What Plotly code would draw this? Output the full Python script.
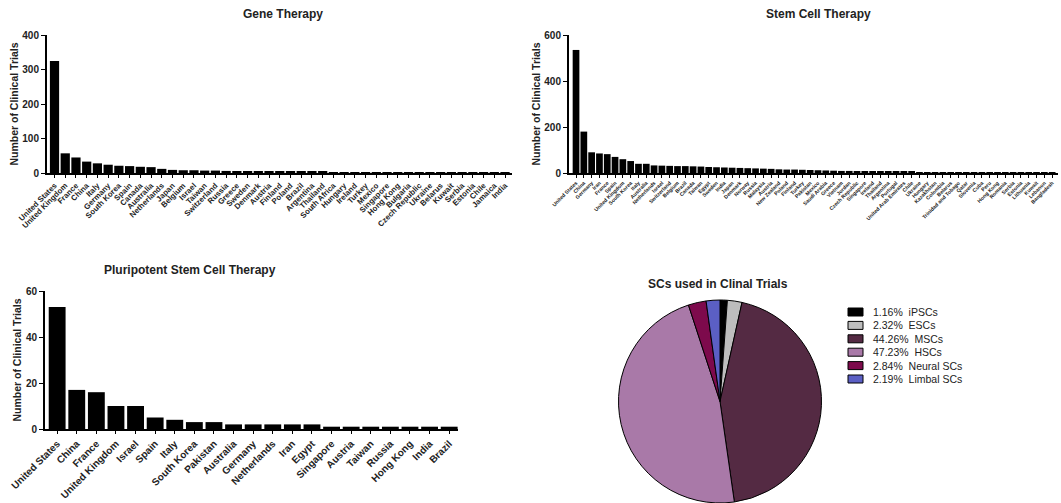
import plotly.graph_objects as go

W, H = 1061, 503

gene_countries = ["United States", "United Kingdom", "France", "China", "Italy", "Germany", "South Korea",
                  "Spain", "Canada", "Australia", "Netherlands", "Japan", "Belgium", "Israel", "Taiwan",
                  "Switzerland", "Russia", "Greece", "Sweden", "Denmark", "Austria", "Finland", "Poland",
                  "Brazil", "Argentina", "Thailand", "South Africa", "Hungary", "Ireland", "Turkey", "Mexico",
                  "Singapore", "Hong Kong", "Bulgaria", "Czech Republic", "Ukraine", "Belarus", "Kuwait",
                  "Serbia", "Estonia", "Chile", "Jamaica", "India"]
gene_values = [325, 57, 45, 33, 28, 24, 21, 20, 18, 17, 12, 9, 8, 8, 7, 7, 6, 5, 5, 4, 4, 4, 3,
               3, 3, 3, 2, 2, 2, 2, 2, 2, 2, 1, 1, 1, 1, 1, 1, 1, 1, 1, 1]

stem_countries = ["United States", "China", "Germany", "Iran", "France", "Spain", "United Kingdom",
                  "South Korea", "Italy", "Australia", "Netherlands", "Israel", "Switzerland", "Belgium",
                  "Brazil", "Canada", "Taiwan", "Egypt", "Sweden", "India", "Japan", "Denmark", "Norway",
                  "Russia", "Malaysia", "Austria", "New Zealand", "Poland", "Finland", "Turkey", "Pakistan",
                  "Mexico", "Saudi Arabia", "Greece", "Vietnam", "Jordan", "Czech Republic", "Singapore",
                  "Ireland", "Thailand", "Argentina", "Portugal", "United Arab Emirates", "Chile", "Ukraine",
                  "Hungary", "Kazakhstan", "Colombia", "Belarus", "Trinidad and Tobago", "Qatar", "Slovenia",
                  "Cuba", "Peru", "Hong Kong", "Romania", "Serbia", "Estonia", "Lithuania", "Kuwait",
                  "Lebanon", "Bangladesh"]
stem_values = [535, 180, 90, 85, 82, 70, 60, 52, 40, 40, 33, 32, 31, 30, 30, 29, 28, 26, 25, 24,
               23, 22, 21, 20, 19, 18, 16, 15, 15, 14, 13, 12, 11, 10, 9, 9, 8, 7, 7, 6, 6, 5, 5,
               5, 4, 4, 4, 3, 3, 3, 3, 2, 2, 2, 2, 2, 1, 1, 1, 1, 1, 1]

psc_countries = ["United States", "China", "France", "United Kingdom", "Israel", "Spain", "Italy",
                 "South Korea", "Pakistan", "Australia", "Germany", "Netherlands", "Iran", "Egypt",
                 "Singapore", "Austria", "Taiwan", "Russia", "Hong Kong", "India", "Brazil"]
psc_values = [53, 17, 16, 10, 10, 5, 4, 3, 3, 2, 2, 2, 2, 2, 1, 1, 1, 1, 1, 1, 1]

sc_types = ["iPSCs", "ESCs", "MSCs", "HSCs", "Neural SCs", "Limbal SCs"]
sc_pct = [1.16, 2.32, 44.26, 47.23, 2.84, 2.19]
sc_colors = ["#000000", "#bdbdbd", "#542a43", "#a979a8", "#7d0a4c", "#5b5fc4"]

FONT = "Liberation Sans, Arial, sans-serif"


def px_x(p):
    return p / W


def px_y(p):
    return (H - p) / H


fig = go.Figure()

fig.add_trace(go.Bar(x=list(range(len(gene_values))), y=gene_values, marker_color="black",
                     marker_line_width=0, xaxis="x", yaxis="y", showlegend=False))
fig.add_trace(go.Bar(x=list(range(len(stem_values))), y=stem_values, marker_color="black",
                     marker_line_width=0, xaxis="x2", yaxis="y2", showlegend=False))
fig.add_trace(go.Bar(x=list(range(len(psc_values))), y=psc_values, marker_color="black",
                     marker_line_width=0, xaxis="x3", yaxis="y3", showlegend=False))

pie_labels = [f"{p:.2f}%  {t}" for p, t in zip(sc_pct, sc_types)]
fig.add_trace(go.Pie(labels=pie_labels, values=sc_pct,
                     marker=dict(colors=sc_colors, line=dict(color="black", width=1)),
                     sort=False, direction="clockwise", rotation=0, textinfo="none",
                     hoverinfo="label", showlegend=False,
                     domain=dict(x=[px_x(617), px_x(823)], y=[0, px_y(300)])))


def xax(labels, domain, rng, size, anchor):
    return dict(domain=domain, range=rng, anchor=anchor, tickmode="array", automargin=False,
                tickvals=list(range(len(labels))), ticktext=labels, tickangle=-45,
                tickfont=dict(family=FONT, size=size, color="#222", weight="bold"),
                showline=True, linecolor="black", linewidth=2, ticks="outside",
                ticklen=3, tickwidth=1.3, tickcolor="black", showgrid=False, zeroline=False)


def yax(domain, rng, dtick, anchor, size=10):
    return dict(domain=domain, range=rng, anchor=anchor, dtick=dtick, automargin=False,
                tickfont=dict(family=FONT, size=size, color="#222", weight="bold"),
                showline=True, linecolor="black", linewidth=2, ticks="outside",
                ticklen=4, tickwidth=1.3, tickcolor="black", showgrid=False, zeroline=False,
                title=dict(text="Number of Clinical Trials",
                           font=dict(family=FONT, size=10.5, color="#222", weight="bold"),
                           standoff=2))


n1, n2, n3 = len(gene_values), len(stem_values), len(psc_values)
fig.update_layout(
    width=W, height=H, margin=dict(l=0, r=0, t=0, b=0, autoexpand=False),
    paper_bgcolor="white", plot_bgcolor="white",
    bargap=0.14, showlegend=False,
    xaxis=xax(gene_countries, [px_x(47), px_x(512)], [-0.7, n1 - 1 + 0.65], 7.8, "y"),
    yaxis=yax([px_y(173), px_y(35)], [0, 400], 100, "x"),
    xaxis2=xax(stem_countries, [px_x(569), px_x(1058)], [-0.9, n2 - 1 + 0.75], 5.2, "y2"),
    yaxis2=yax([px_y(173), px_y(35)], [0, 600], 200, "x2"),
    xaxis3=xax(psc_countries, [px_x(45), px_x(458)], [-0.62, n3 - 1 + 0.45], 10, "y3"),
    yaxis3=yax([px_y(429), px_y(291)], [0, 60], 20, "x3"),
)

# manual legend for the pie (compact spacing like the original)
leg_x0, leg_y0, leg_dy = 848, 307, 13.4
for i, (lab, col) in enumerate(zip(pie_labels, sc_colors)):
    ytop = leg_y0 + i * leg_dy
    fig.add_shape(type="rect", xref="paper", yref="paper",
                  x0=px_x(leg_x0), x1=px_x(leg_x0 + 15), y0=px_y(ytop + 1), y1=px_y(ytop + 9),
                  fillcolor=col, line=dict(color="black", width=1))
    fig.add_annotation(text=lab, x=px_x(leg_x0 + 23), y=px_y(ytop + 5), xref="paper", yref="paper",
                       showarrow=False, xanchor="left", yanchor="middle",
                       font=dict(family=FONT, size=10.5, color="#222"))

titles = [("Gene Therapy", 283, 14), ("Stem Cell Therapy", 818, 14),
          ("Pluripotent Stem Cell Therapy", 190, 270), ("SCs used in Clinal Trials", 718, 284)]
for txt, x, y in titles:
    fig.add_annotation(text=txt, x=px_x(x), y=px_y(y), xref="paper", yref="paper",
                       showarrow=False, xanchor="center", yanchor="middle",
                       font=dict(family=FONT, size=12, color="#222", weight="bold"))

fig.write_html("out.html", config={"displayModeBar": False},
               post_script="document.body.style.margin='0';document.body.style.overflow='hidden';")
